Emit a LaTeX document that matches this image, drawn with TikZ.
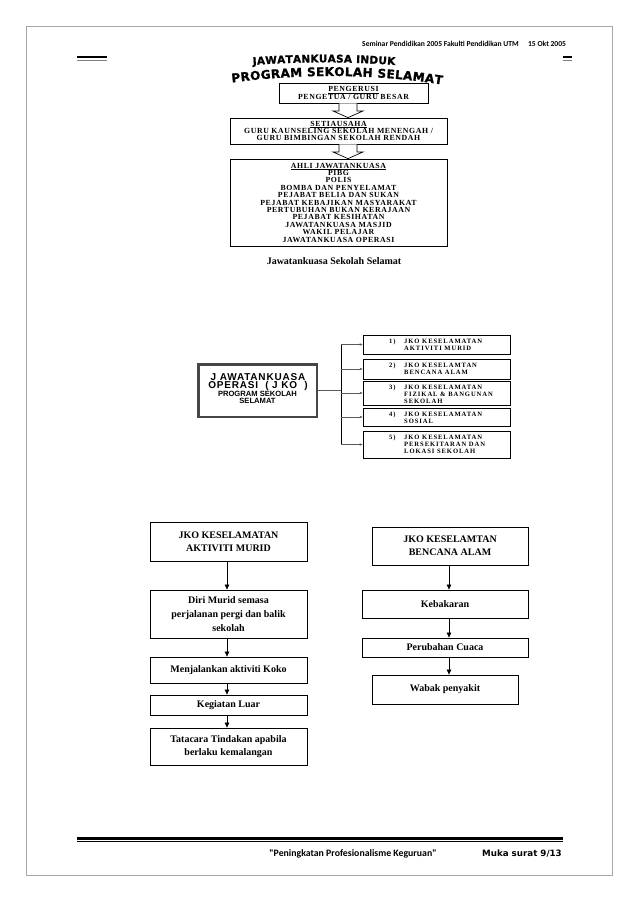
\documentclass[tikz,border=0pt]{standalone}
\usepackage{fontspec}
\setmainfont{Liberation Serif}
\newfontfamily\spacedf{Liberation Serif}[LetterSpace=8]
\newfontfamily\spacedsm{Liberation Serif}[LetterSpace=14]
\newfontfamily\arialf{Liberation Sans}
\newfontfamily\arialsp{Liberation Sans}[LetterSpace=8]
\newfontfamily\wordart{DejaVu Sans}[FakeBold=1.2]
\newfontfamily\dejavu{DejaVu Sans}
\newfontfamily\carlito{Carlito}
\newcommand\ttlA{\wordart\bfseries\fontsize{10.5}{10.5}\selectfont}
\newcommand\ttlB{\wordart\bfseries\fontsize{12}{12}\selectfont}
\usetikzlibrary{arrows.meta,decorations.text,calc}
\begin{document}
\begin{tikzpicture}[x=1pt,y=-1pt,
  box/.style={draw, line width=0.8pt, inner sep=0pt, align=center},
  topbox/.style={box, font={\spacedf\bfseries\fontsize{7.8}{7.4}\selectfont}},
  blk/.style={draw, fill=white, line width=0.7pt},
  jt/.style={inner sep=0pt, align=left, anchor=north west, font={\spacedsm\bfseries\fontsize{6.6}{7}\selectfont}},
  br/.style={draw=gray!70!black, line width=0.6pt, -{Stealth[length=3pt,width=2.5pt]}},
  fbox/.style={box, font={\bfseries\fontsize{10}{13}\selectfont}},
  arr/.style={line width=0.7pt, -{Triangle[length=5pt,width=4.5pt]}}
]
\useasboundingbox (0,0) rectangle (638,903);
\fill[white] (0,0) rectangle (638,903);
% page border
\draw[gray!70, line width=0.9pt] (26,26) rectangle (612,875);
% header
\node[anchor=west, inner sep=0pt, font={\carlito\bfseries\fontsize{7.6}{8}\selectfont}] (hdr) at (362,44) {Seminar Pendidikan 2005 Fakulti Pendidikan UTM \quad 15 Okt 2005};
\draw[line width=2.8pt] (77,57) -- (107,57);
\draw[gray, line width=0.8pt] (77,60.3) -- (107,60.3);
\draw[line width=2.8pt] (563,57) -- (572,57);
\draw[gray, line width=0.8pt] (563,60.3) -- (572,60.3);
% title wordart
\path[decorate, decoration={text along path, text={|\ttlA|JAWATANKUASA INDUK}, text align={fit to path}}]
  (253,65) .. controls (300,61.5) and (348,61.5) .. (395,65);
\path[decorate, decoration={text along path, text={|\ttlB|PROGRAM SEKOLAH SELAMAT}, text align={fit to path}}]
  (232,82.5) .. controls (302,73.5) and (372,73.5) .. (442,84.5);
% top hierarchy
\node[topbox, minimum width=149pt, minimum height=20pt] (p1) at (353.5,93) {\underline{PENGERUSI}\\PENGETUA / GURU BESAR};
\node[topbox, minimum width=217pt, minimum height=26pt] (p2) at (338.5,131) {\underline{SETIAUSAHA}\\GURU KAUNSELING SEKOLAH MENENGAH /\\GURU BIMBINGAN SEKOLAH RENDAH};
\node[topbox, minimum width=217pt, minimum height=87pt] (p3) at (338.5,202.5) {\underline{AHLI JAWATANKUASA}\\PIBG\\POLIS\\BOMBA DAN PENYELAMAT\\PEJABAT BELIA DAN SUKAN\\PEJABAT KEBAJIKAN MASYARAKAT\\PERTUBUHAN BUKAN KERAJAAN\\PEJABAT KESIHATAN\\JAWATANKUASA MASJID\\WAKIL PELAJAR\\JAWATANKUASA OPERASI};
\draw[blk] (339,0 |- p1.south) -- (339,111) -- (333,111) -- (348,0 |- p2.north) -- (363,111) -- (357,111) -- (357,0 |- p1.south);
\draw[blk] (339,0 |- p2.south) -- (339,152) -- (333,152) -- (348,0 |- p3.north) -- (363,152) -- (357,152) -- (357,0 |- p2.south);
\node[font={\bfseries\fontsize{10}{12}\selectfont}] (cap) at (334,261) {Jawatankuasa Sekolah Selamat};
% JKO section
\node[draw=gray!55!black, line width=2.5pt, minimum width=118.5pt, minimum height=52.5pt, inner sep=0pt] (jko) at (257.5,390.5) {};
\node[align=center, inner sep=0pt, font={\arialsp\bfseries\fontsize{10}{8.3}\selectfont}] (jkot1) at (258,382) {J AWATANKUASA\\OPERASI \ ( J KO \ )};
\node[align=center, inner sep=0pt, font={\arialf\bfseries\fontsize{7.6}{6.6}\selectfont}] (jkot2) at (257.5,397.5) {PROGRAM SEKOLAH\\SELAMAT};
\node[box, minimum width=147pt, minimum height=19pt] (b1) at (436.5,344.5) {};
\node[box, minimum width=147pt, minimum height=20pt] (b2) at (436.5,369) {};
\node[box, minimum width=147pt, minimum height=24pt] (b3) at (436.5,393) {};
\node[box, minimum width=147pt, minimum height=18pt] (b4) at (436.5,417) {};
\node[box, minimum width=147pt, minimum height=27pt] (b5) at (436.5,444.5) {};
\node[jt] (n1) at (389,339) {1)};
\node[jt] (t1) at (404,339) {JKO KESELAMATAN\\AKTIVITI MURID};
\node[jt] (n2) at (389,363) {2)};
\node[jt] (t2) at (404,363) {JKO KESELAMTAN\\BENCANA ALAM};
\node[jt] (n3) at (389,385) {3)};
\node[jt] (t3) at (404,385) {JKO KESELAMATAN\\FIZIKAL \& BANGUNAN\\SEKOLAH};
\node[jt] (n4) at (389,412) {4)};
\node[jt] (t4) at (404,412) {JKO KESELAMATAN\\SOSIAL};
\node[jt] (n5) at (389,435) {5)};
\node[jt] (t5) at (404,435) {JKO KESELAMATAN\\PERSEKITARAN DAN\\LOKASI SEKOLAH};
\coordinate (tr) at (341,0 |- jko.east);
\draw[gray!70!black, line width=0.6pt] (jko.east) -- (tr);
\draw[line width=0.7pt] (341,0 |- b1.west) -- (341,0 |- b5.west);
\foreach \b in {b1,b2,b3,b4,b5} \draw[br] (341,0 |- \b.west) -- (\b.west);
% left flow
\node[fbox, minimum width=157pt, minimum height=39pt] (l1) at (228.5,541.5) {JKO KESELAMATAN\\AKTIVITI MURID};
\node[fbox, minimum width=157pt, minimum height=48pt, font={\bfseries\fontsize{10}{14.3}\selectfont}] (l2) at (228.5,614) {Diri Murid semasa\\perjalanan pergi dan balik\\sekolah};
\node[fbox, minimum width=157pt, minimum height=26pt] (l3) at (228.5,670) {Menjalankan aktiviti Koko};
\node[fbox, minimum width=157pt, minimum height=20pt] (l4) at (228.5,705) {Kegiatan Luar};
\node[fbox, minimum width=157pt, minimum height=37pt] (l5) at (228.5,746.5) {Tatacara Tindakan apabila\\berlaku kemalangan};
\draw[arr] (227,0 |- l1.south) -- (227,0 |- l2.north);
\draw[arr] (227,0 |- l2.south) -- (227,0 |- l3.north);
\draw[arr] (227,0 |- l3.south) -- (227,0 |- l4.north);
\draw[arr] (227,0 |- l4.south) -- (227,0 |- l5.north);
% right flow
\node[fbox, minimum width=156pt, minimum height=38pt] (r1) at (450,546) {JKO KESELAMTAN\\BENCANA ALAM};
\node[fbox, minimum width=166pt, minimum height=28pt] (r2) at (445,604) {Kebakaran};
\node[fbox, minimum width=166pt, minimum height=19pt] (r3) at (445,647.5) {Perubahan Cuaca};
\node[fbox, minimum width=146pt, minimum height=29pt] (r4) at (445,689.5) {Wabak penyakit};
\draw[arr] (449,0 |- r1.south) -- (449,0 |- r2.north);
\draw[arr] (449,0 |- r2.south) -- (449,0 |- r3.north);
\draw[arr] (449,0 |- r3.south) -- (449,0 |- r4.north);
% footer
\draw[line width=2.7pt] (77,838.5) -- (563,838.5);
\draw[line width=0.7pt] (77,841.8) -- (563,841.8);
\node[font={\carlito\bfseries\fontsize{9.8}{10}\selectfont}] (ft1) at (353,854) {"Peningkatan Profesionalisme Keguruan"};
\node[font={\dejavu\bfseries\fontsize{8.7}{9}\selectfont}] (ft2) at (522,854) {Muka surat 9/13};
\end{tikzpicture}
\end{document}
